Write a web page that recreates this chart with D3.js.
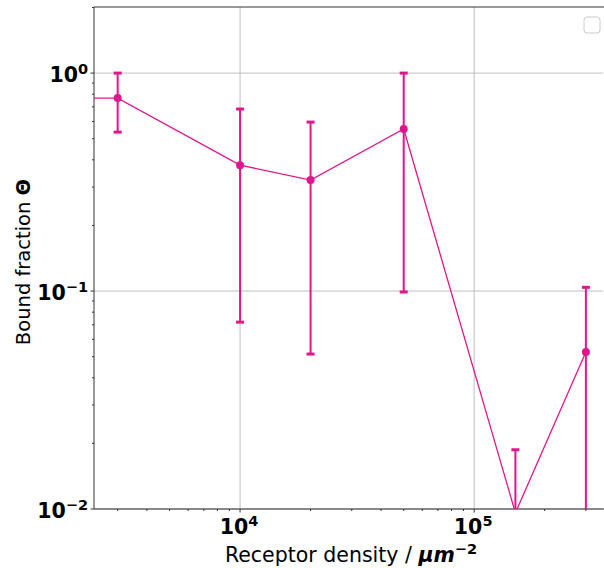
<!DOCTYPE html>
<html><head><meta charset="utf-8">
<script src="https://cdn.jsdelivr.net/npm/d3@7"></script>
<style>body{margin:0;background:#fff}svg{font-family:"DejaVu Sans",sans-serif}</style>
</head><body><svg id="c" width="604" height="568"></svg>
<script>
const density = [1000, 3000, 10000, 20000, 50000, 150000, 300000];
const theta   = [0.768, 0.768, 0.378, 0.323, 0.554, 0.0096, 0.0525];
const errLow  = [null, 0.536, 0.072, 0.0514, 0.099, 0.001, 0.001];
const errHigh = [null, 1.0, 0.684, 0.596, 1.0, 0.0187, 0.104];
const xTicks = [1e4, 1e5];
const xTickExp = ["4", "5"];
const yTicks = [1, 0.1, 0.01];
const yTickExp = ["0", "\u22121", "\u22122"];

const color = "#e0168c";
const svg = d3.select("#c");
const L = 94, R = 603, T = 7, B = 509;
const x = d3.scaleLog().domain([2377, 355000]).range([L, R]);
const y = d3.scaleLog().domain([0.01, 2.01]).range([B, T]);

svg.append("defs").append("clipPath").attr("id","clip")
  .append("rect").attr("x",L).attr("y",T).attr("width",R-L).attr("height",B-T);

// grid
const g = svg.append("g");
xTicks.forEach(t => g.append("line").attr("x1",x(t)).attr("x2",x(t)).attr("y1",T).attr("y2",B).attr("stroke","#b0b0b0").attr("stroke-width",0.8));
yTicks.forEach(t => g.append("line").attr("x1",L).attr("x2",R).attr("y1",y(t)).attr("y2",y(t)).attr("stroke","#b0b0b0").attr("stroke-width",0.8));

// axes with minor ticks
const xMinor = [];
for (let d = 1e3; d <= 1e6; d *= 10) for (let k = 2; k <= 9; k++) { const v = d*k; if (v > 2377 && v < 355000) xMinor.push(v); }
const yMinor = [];
for (let d = 0.01; d <= 1; d *= 10) for (let k = 2; k <= 9; k++) { const v = d*k; if (v > 0.01 && v < 2.01) yMinor.push(v); }

const ax = svg.append("g").attr("stroke","#333");
xMinor.forEach(v => ax.append("line").attr("x1",x(v)).attr("x2",x(v)).attr("y1",B).attr("y2",B+2));
xTicks.forEach(v => ax.append("line").attr("x1",x(v)).attr("x2",x(v)).attr("y1",B).attr("y2",B+3.5));
yMinor.forEach(v => ax.append("line").attr("x1",L).attr("x2",L-2).attr("y1",y(v)).attr("y2",y(v)));
yTicks.forEach(v => ax.append("line").attr("x1",L).attr("x2",L-3.5).attr("y1",y(v)).attr("y2",y(v)));

// spines
svg.append("line").attr("x1",L).attr("x2",L).attr("y1",T).attr("y2",B).attr("stroke","#333").attr("stroke-width",1);
svg.append("line").attr("x1",L).attr("x2",R+1).attr("y1",B).attr("y2",B).attr("stroke","#333").attr("stroke-width",1);
svg.append("line").attr("x1",L).attr("x2",R+1).attr("y1",T).attr("y2",T).attr("stroke","#333").attr("stroke-width",1);

// tick labels
xTicks.forEach((v,i) => {
  const t = svg.append("text").attr("x",x(v)-1).attr("y",B+25).attr("text-anchor","middle")
    .attr("font-size",20.5).attr("font-weight","bold").attr("fill","#000");
  t.append("tspan").text("10");
  t.append("tspan").attr("dy",-8.5).attr("font-size",14.5).text(xTickExp[i]);
});
yTicks.forEach((v,i) => {
  const t = svg.append("text").attr("x",88).attr("y",y(v)+9).attr("text-anchor","end")
    .attr("font-size",20.5).attr("font-weight","bold").attr("fill","#000");
  t.append("tspan").text("10");
  t.append("tspan").attr("dy",-8.5).attr("font-size",14.5).text(yTickExp[i]);
});

// axis labels
const xl = svg.append("text").attr("x",351).attr("y",562).attr("text-anchor","middle").attr("font-size",20.5).attr("fill","#000");
xl.append("tspan").text("Receptor density / ");
xl.append("tspan").attr("font-weight","bold").attr("font-style","italic").text("\u03bcm");
xl.append("tspan").attr("dy",-8).attr("font-size",14.5).attr("font-weight","bold").text("\u22122");
const yl = svg.append("text").attr("transform","translate(30,262) rotate(-90)").attr("text-anchor","middle").attr("font-size",19.5).attr("fill","#000");
yl.append("tspan").text("Bound fraction ");
yl.append("tspan").attr("font-weight","bold").text("\u0398");

// data
const plot = svg.append("g").attr("clip-path","url(#clip)");
plot.append("path").datum(density.map((d,i)=>[d,theta[i]]))
  .attr("d", d3.line().x(d=>x(d[0])).y(d=>y(d[1])))
  .attr("fill","none").attr("stroke",color).attr("stroke-width",1.3);
density.forEach((d,i) => {
  if (errHigh[i] == null) return;
  const cx = x(d);
  plot.append("line").attr("x1",cx).attr("x2",cx).attr("y1",y(errLow[i])).attr("y2",y(errHigh[i])).attr("stroke",color).attr("stroke-width",2);
  [errLow[i], errHigh[i]].forEach(v => plot.append("line").attr("x1",cx-4).attr("x2",cx+4).attr("y1",y(v)).attr("y2",y(v)).attr("stroke",color).attr("stroke-width",3));
  plot.append("circle").attr("cx",cx).attr("cy",y(theta[i])).attr("r",4).attr("fill",color);
});

// empty legend
svg.append("rect").attr("x",584).attr("y",17).attr("width",16).attr("height",16).attr("rx",3)
  .attr("fill","#fff").attr("stroke","#ccc").attr("stroke-width",1);
</script></body></html>
